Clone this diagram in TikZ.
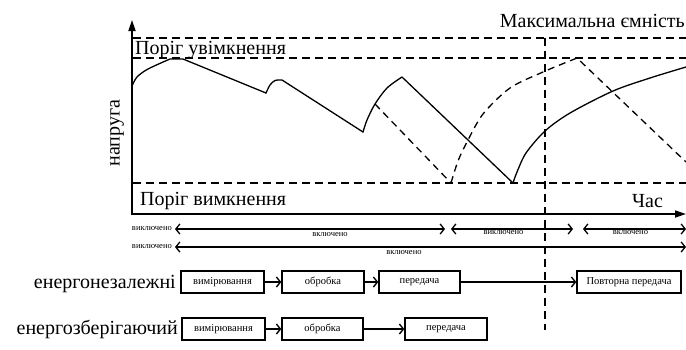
\documentclass[tikz,border=0pt]{standalone}
\usepackage{fontspec}
\setmainfont{Liberation Serif}
\usetikzlibrary{arrows.meta}

\begin{document}
\begin{tikzpicture}[x=1pt,y=-1pt,
  big/.style={font=\fontsize{20}{22}\selectfont, inner sep=0pt},
  small/.style={font=\fontsize{8.5}{9}\selectfont, inner sep=0pt},
  stage/.style={draw, line width=1.4pt, minimum height=22pt, inner sep=0pt,
    font=\fontsize{10.5}{11}\selectfont},
  guide/.style={line width=1.2pt, dash pattern=on 8pt off 5pt},
  trace/.style={line width=1.3pt, line join=round, line cap=round},
  ghost/.style={line width=1.3pt, dash pattern=on 7pt off 5pt},
  axis/.style={line width=1.7pt, -{Triangle[length=11pt,width=7pt]}},
  flow/.style={line width=1.4pt, -{Straight Barb[length=4pt,width=10pt]}},
  period/.style={line width=1.3pt,
    {Straight Barb[length=4pt,width=10pt]}-{Straight Barb[length=4pt,width=10pt]}}]
\useasboundingbox (0,0) rectangle (686,349);

% axes
\coordinate (O) at (132,214);
\coordinate (ytop) at (132,20);
\coordinate (xend) at (686,214);
\draw[axis] (132,215) -- (ytop);
\draw[axis] (O) -- (xend);

% threshold lines
\coordinate (cmaxL) at (133,38);  \coordinate (cmaxR) at (686,38);
\coordinate (onL) at (133,58);    \coordinate (onR) at (686,58);
\coordinate (offL) at (133,183);  \coordinate (offR) at (686,183);
\draw[guide] (cmaxL) -- (cmaxR);
\draw[guide] (onL) -- (onR);
\draw[guide] (offL) -- (offR);

% moment of maximal capacity
\coordinate (vtop) at (545,38);
\coordinate (vbot) at (545,330);
\draw[guide] (vtop) -- (vbot);

% labels of the plot
\node[big, anchor=base east] (lmax) at (685,27) {Максимальна ємність};
\node[big, anchor=base west] (lon) at (135,54) {Поріг увімкнення};
\node[big, anchor=base west] (loff) at (140,205) {Поріг вимкнення};
\node[big, anchor=base west] (ltime) at (632,207) {Час};
\node[big, rotate=90] (lvolt) at (117,133) {напруга};

% voltage trace (solid)
\draw[trace] plot[smooth] coordinates {(132,86) (137,77) (148,69) (170,59)}
  -- (183,59) -- (266,93);
\draw[trace] plot[smooth] coordinates {(266,93) (270,85) (275,80.5) (282,80)}
  -- (363,132);
\draw[trace] plot[smooth] coordinates {(363,132) (367,120) (375,104) (387,88) (402,77)}
  -- (513,183);
\draw[trace] plot[smooth] coordinates {(513,183) (517,172) (526,153) (545,131)
  (570,113) (613,91) (650,78) (686,67)};

% voltage trace (dashed)
\draw[ghost] (375,104) -- (451,183);
\draw[ghost] plot[smooth] coordinates {(451,183) (458,161) (467,142) (483,114)
  (510,88) (543,72) (577,58)} -- (686,162);

% on/off periods
\coordinate (p1a) at (175,229); \coordinate (p1b) at (445,229);
\coordinate (p2a) at (451,229); \coordinate (p2b) at (573,229);
\coordinate (p3a) at (583,229); \coordinate (p3b) at (686,229);
\coordinate (p4a) at (175,247); \coordinate (p4b) at (686,247);
\node[small, anchor=east] (t1) at (172,229) {виключено};
\node[small, anchor=east] (t2) at (172,247) {виключено};
\draw[period] (p1a) -- (p1b) node[small, pos=0.574, anchor=north, yshift=-3pt] (t3) {включено};
\draw[period] (p2a) -- (p2b) node[small, pos=0.43, anchor=north, yshift=-1pt] (t4) {виключено};
\draw[period] (p3a) -- (p3b) node[small, pos=0.46, anchor=north, yshift=-1pt] (t5) {включено};
\draw[period] (p4a) -- (p4b) node[small, pos=0.448, anchor=north, yshift=-3pt] (t6) {включено};

% energy-independent node
\node[big, anchor=base east] (rowA) at (176,288) {енергонезалежні};
\node[stage, minimum width=83pt] (a1) at (222.5,282) {вимірювання};
\node[stage, minimum width=82pt] (a2) at (323,282) {обробка};
\node[stage, minimum width=81pt] (a3) at (419.5,282) {передача};
\node[stage, minimum width=104pt] (a4) at (629,282) {Повторна передача};
\draw[flow] (a1) -- (a2);
\draw[flow] (a2) -- (a3);
\draw[flow] (a3) -- (a4);

% energy-saving node
\node[big, anchor=base east] (rowB) at (178,334) {енергозберігаючий};
\node[stage, minimum width=83pt] (b1) at (223.5,329) {вимірювання};
\node[stage, minimum width=81pt] (b2) at (322.5,329) {обробка};
\node[stage, minimum width=82pt] (b3) at (446,329) {передача};
\draw[flow] (b1) -- (b2);
\draw[flow] (b2) -- (b3);
\end{tikzpicture}
\end{document}
